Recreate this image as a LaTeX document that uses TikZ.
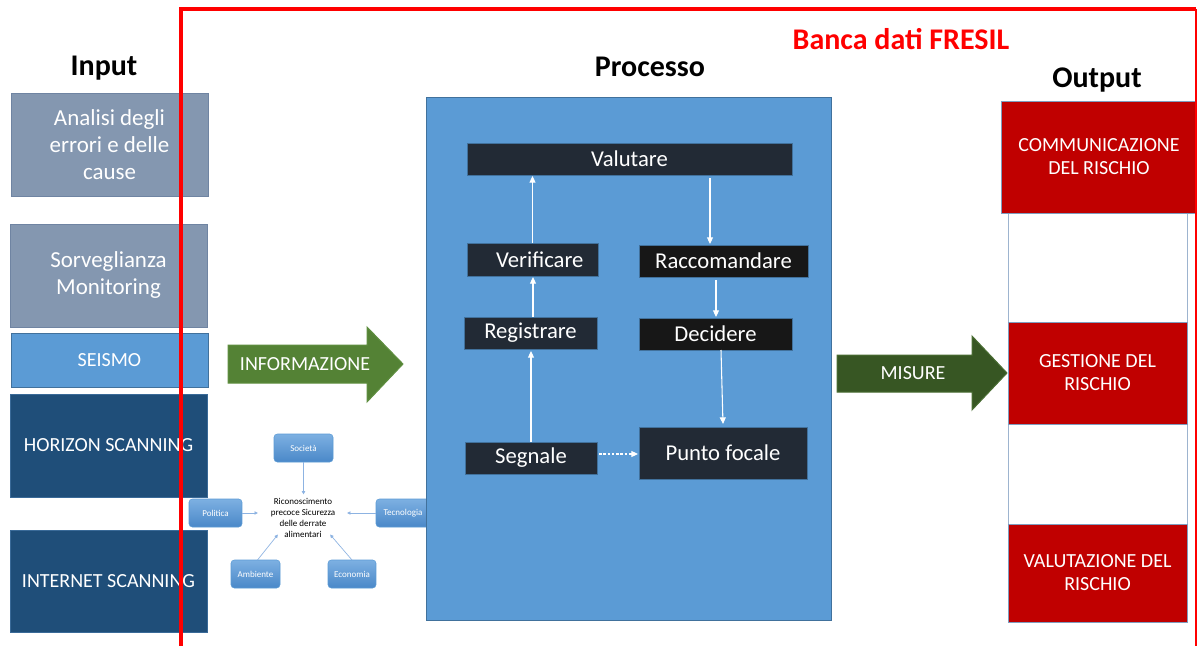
\documentclass[tikz,border=0pt]{standalone}
\usepackage{fontspec}
\setmainfont{Carlito}
\usetikzlibrary{arrows.meta,calc}
\definecolor{ingray}{HTML}{8497B0}
\definecolor{ingrayb}{HTML}{6F84A2}
\definecolor{seis}{HTML}{5B9BD5}
\definecolor{bordb}{HTML}{41719C}
\definecolor{navy}{HTML}{1F4E79}
\definecolor{navyb}{HTML}{3A6A98}
\definecolor{darkbox}{HTML}{222A35}
\definecolor{blackbox}{HTML}{171717}
\definecolor{outred}{HTML}{C00000}
\definecolor{outb}{HTML}{7F9DBF}
\definecolor{colb}{HTML}{9DB4CF}
\definecolor{gA}{HTML}{548235}
\definecolor{gAb}{HTML}{5F8F40}
\definecolor{gB}{HTML}{375623}
\definecolor{gBb}{HTML}{4A6E33}
\definecolor{mmtop}{HTML}{7DB0E2}
\definecolor{mmbot}{HTML}{4A88C8}
\definecolor{mmb}{HTML}{5B9BD5}
\definecolor{mmarr}{HTML}{8DB3E2}
\definecolor{frame}{HTML}{FF0000}
\newcommand\mybox[7]{%
  \node[#6, inner sep=0pt, outer sep=0pt,
    minimum width={((#4)-(#2))*0.75pt},
    minimum height={((#5)-(#3))*0.75pt}]
    (#1) at ({((#2)+(#4))/2},{((#3)+(#5))/2}) {#7};}
\tikzset{
  ttl/.style={anchor=base, font=\fontsize{22.5}{27}\selectfont\bfseries},
  inbox/.style={draw=ingrayb, fill=ingray, text=white, align=center,
    font=\fontsize{17.2}{20.25}\selectfont},
  capbox/.style={text=white, align=center, font=\fontsize{15}{17.25}\selectfont},
  procbox/.style={draw=bordb, fill=darkbox, text=white, align=center,
    font=\fontsize{17}{20}\selectfont},
  outbox/.style={draw=outb, fill=outred, capbox},
  mmnode/.style={draw=mmb, rounded corners=2.5pt, top color=mmtop, bottom color=mmbot,
    text=white, font=\fontsize{6.75}{8.25}\selectfont},
  parr/.style={draw=white, line width=0.8pt, -{Triangle[length=5pt,width=4.5pt]}},
  marr/.style={draw=mmarr, line width=0.5pt, -{Triangle[length=2.5pt,width=2.5pt]}},
  bigarr/.style={line width=0.75pt}
}
\begin{document}
\begin{tikzpicture}[x=0.75pt, y=-0.75pt]
\useasboundingbox (0,0) rectangle (1197,646);
\fill[white] (0,0) rectangle (1197,646);

% titles
\node[ttl] (tin) at (104,75) {Input};
\node[ttl] (tproc) at (650,76) {Processo};
\node[ttl] (tout) at (1097,87) {Output};
\node[ttl, text=frame] (tbanca) at (901,50) {Banca dati FRESIL};

% input boxes
\mybox{an}{11}{93}{208}{196}{inbox}{Analisi degli\\errori e delle\\cause}
\mybox{sor}{10}{224}{207}{327}{inbox}{Sorveglianza\\Monitoring}
\mybox{sei}{11}{333}{208}{387}{capbox, draw=bordb, fill=seis}{SEISMO}
\mybox{hor}{10}{394}{207}{497}{capbox, draw=navyb, fill=navy}{HORIZON SCANNING}
\mybox{int}{10}{530}{207}{632}{capbox, draw=navyb, fill=navy}{INTERNET SCANNING}

% mind map
\mybox{soc}{274}{434}{333}{462}{mmnode}{Società}
\mybox{pol}{189}{499}{242}{527}{mmnode}{Politica}
\mybox{tec}{376}{499}{430}{527}{mmnode}{Tecnologia}
\mybox{amb}{231}{560}{280}{588}{mmnode}{Ambiente}
\mybox{eco}{328}{560}{376}{588}{mmnode}{Economia}
\node[align=center, inner sep=2pt, font=\fontsize{6.75}{8.25}\selectfont] (mmc) at (303,518)
  {Riconoscimento\\precoce Sicurezza\\delle derrate\\alimentari};
\draw[marr] (soc.south) -- ($(soc.south |- mmc.north)+(0,-1)$);
\draw[marr] (pol.east) -- ($(mmc.west |- pol.east)+(-10,0)$);
\draw[marr] (tec.west) -- ($(mmc.east |- tec.west)+(9,0)$);
\draw[marr] ($(amb.north)+(2,0)$) -- ($(mmc.south west)+(10,-6)$);
\draw[marr] ($(eco.north)+(0,0)$) -- ($(mmc.south east)+(-8,-6)$);

% INFORMAZIONE arrow
\draw[bigarr, draw=gAb, fill=gA] (228,345) -- (367,345) -- (367,327) -- (403,364)
  -- (367,402) -- (367,383) -- (228,383) -- cycle;
\node[capbox] (info) at (305,364) {INFORMAZIONE};

% process box
\mybox{proc}{426}{97}{831}{620}{draw=bordb, fill=seis, line width=0.75pt}{}
\mybox{val}{467}{143}{792}{175}{procbox}{Valutare}
\mybox{ver}{467}{243}{598}{276}{procbox}{\hspace*{11pt}Verificare}
\mybox{rac}{639}{245}{808}{277}{procbox, fill=blackbox}{Raccomandare}
\mybox{reg}{464}{317}{597}{349}{procbox}{Registrare}
\mybox{dec}{639}{318}{792}{350}{procbox, fill=blackbox}{Decidere}
\mybox{seg}{465}{442}{597}{474}{procbox}{Segnale}
\mybox{pf}{639}{427}{807}{479}{procbox}{Punto focale}

\draw[parr] (ver.north) -- ($(ver.north |- val.south)+(0,1)$);
\draw[parr] ($(reg.north)+(2.5,0)$) -- ($(reg.north |- ver.south)+(2.5,1)$);
\draw[parr] (seg.north) -- ($(seg.north |- reg.south)+(0,2)$);
\draw[parr] ($(rac.north |- val.south)+(-13.5,3)$) -- ($(rac.north)+(-13.5,-1)$);
\draw[parr] ($(rac.south)+(-7.5,3)$) -- ($(dec.north)+(0.5,-1)$);
\draw[parr] ($(dec.south)+(5.5,0)$) -- ($(pf.north)+(0,-3)$);
\draw[parr, dash pattern=on 2pt off 1.2pt] ($(seg.east)+(2,-4)$) -- ($(pf.west)+(-1,1)$);

% MISURE arrow
\draw[bigarr, draw=gBb, fill=gB] (837,355) -- (972,355) -- (972,336) -- (1007,373)
  -- (972,410) -- (972,392) -- (837,392) -- cycle;
\node[capbox] (mis) at (913,373) {MISURE};

% output
\mybox{col}{1008}{150}{1187}{622}{draw=colb, fill=white, line width=0.75pt}{}
\mybox{comm}{1001}{101}{1197}{213}{outbox}{COMMUNICAZIONE\\DEL RISCHIO}
\mybox{gest}{1008}{322}{1187}{424}{outbox}{GESTIONE DEL\\RISCHIO}
\mybox{valr}{1008}{524}{1187}{622}{outbox}{VALUTAZIONE DEL\\RISCHIO}

% red frame
\draw[frame, line width=3pt] (181,646) -- (181,9) -- (1196,9);
\draw[frame, line width=1.5pt] (1196,9) -- (1196,646);
\end{tikzpicture}
\end{document}
